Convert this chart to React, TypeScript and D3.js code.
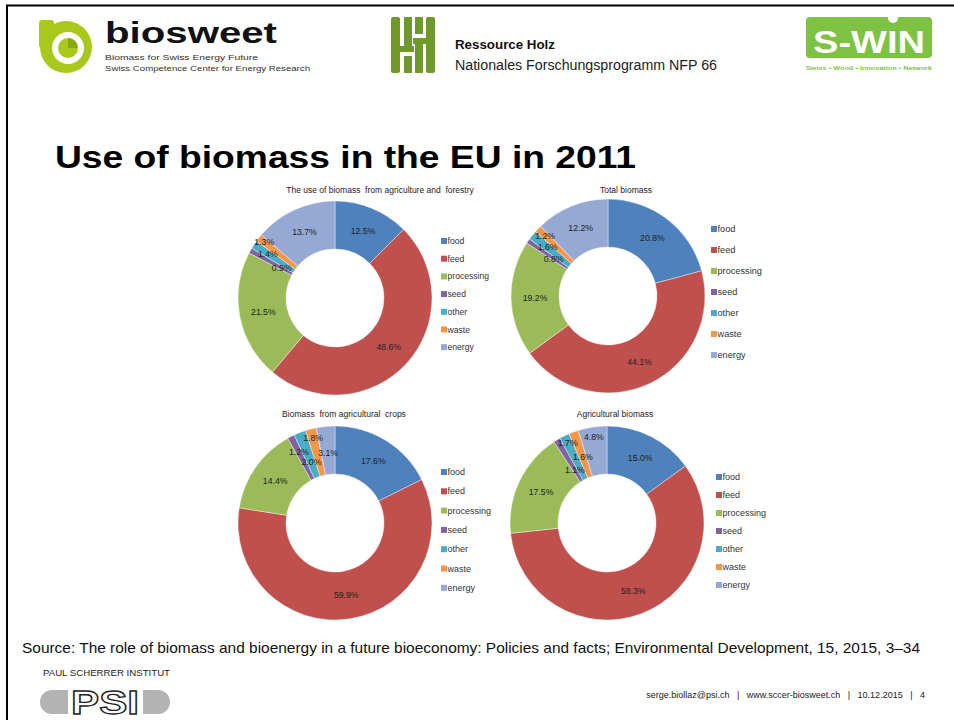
import React from 'react';
import { arc, pie } from 'd3';

const categories = ['food', 'feed', 'processing', 'seed', 'other', 'waste', 'energy'];
const colors = ['#4F81BD', '#C0504D', '#9BBB59', '#8064A2', '#4BACC6', '#F79646', '#95A9D4'];

const agriForestry = [12.5, 48.6, 21.5, 0.9, 1.4, 1.3, 13.7];
const totalBiomass = [20.8, 44.1, 19.2, 0.8, 1.6, 1.2, 12.2];
const agriCrops = [17.6, 59.9, 14.4, 1.2, 2.0, 1.8, 3.1];
const agriBiomass = [15.0, 58.3, 17.5, 1.1, 1.7, 1.6, 4.8];

const titles = [
  'The use of biomass  from agriculture and  forestry',
  'Total biomass',
  'Biomass  from agricultural  crops',
  'Agricultural biomass',
];

const footerParts = ['serge.biollaz@psi.ch', 'www.sccer-biosweet.ch', '10.12.2015', '4'];

// layout of each donut on the slide
const panels = [
  { values: agriForestry, cx: 335, cy: 298, tx: 380, ty: 193, lx: 441, ly: 241, step: 17.7, fs: 8.6, labelR: [0, 0, 0, 0.63, 0.83, 0.93, 0] },
  { values: totalBiomass, cx: 608, cy: 296, tx: 626, ty: 193, lx: 711, ly: 229, step: 21, fs: 9.2, labelR: [0, 0, 0, 0.68, 0.8, 0.9, 0] },
  { values: agriCrops, cx: 335, cy: 523, tx: 344, ty: 417, lx: 441, ly: 472, step: 19.3, fs: 9, labelR: [0, 0, 0, 0.82, 0.67, 0.91, 0.73] },
  { values: agriBiomass, cx: 607, cy: 523, tx: 615, ty: 417, lx: 716, ly: 477, step: 18, fs: 9, labelR: [0, 0, 0, 0.64, 0.92, 0.72, 0.9] },
];

const R = 97;
const r0 = 49;

const Donut = ({ p, title }: any) => {
  const arcs = pie<number>().sort(null).value((d) => d)(p.values);
  const path = arc<any>().innerRadius(r0).outerRadius(R);
  return (
    <g>
      <text x={p.tx} y={p.ty} textAnchor="middle" fontSize={8.5} fill="#222" style={{ whiteSpace: 'pre' }}>{title}</text>
      <g transform={`translate(${p.cx},${p.cy})`}>
        {arcs.map((a, i) => (
          <path key={i} d={path(a) as string} fill={colors[i]} stroke="#fff" strokeWidth={0.4} />
        ))}
        {arcs.map((a, i) => {
          const rr = p.labelR[i] ? p.labelR[i] * R : (r0 + R) / 2;
          const ang = (a.startAngle + a.endAngle) / 2;
          const x = rr * Math.sin(ang);
          const y = -rr * Math.cos(ang);
          return (
            <text key={i} x={x} y={y} dy="0.35em" textAnchor="middle" fontSize={8.7} fill="#222">
              {p.values[i].toFixed(1)}%
            </text>
          );
        })}
      </g>
      {categories.map((c, i) => (
        <g key={c} transform={`translate(${p.lx},${p.ly + i * p.step})`}>
          <rect x={0} y={-3} width={6} height={6} fill={colors[i]} />
          <text x={6.5} y={0} dy="0.35em" fontSize={p.fs} fill="#333">{c}</text>
        </g>
      ))}
    </g>
  );
};

export default function App() {
  const font = 'Arial, "Liberation Sans", sans-serif';
  return (
    <svg width={954} height={720} style={{ position: 'absolute', left: 0, top: 0, fontFamily: font }}>
      <rect width={954} height={720} fill="#fff" />
      {/* slide frame */}
      <path d="M7,720 V5.5 H954" fill="none" stroke="#000" strokeWidth={2} />

      {/* biosweet logo */}
      <g>
        <rect x={39} y={20} width={15} height={28} rx={3} fill="#A8C81E" />
        <circle cx={66} cy={47} r={26} fill="#A8C81E" />
        <circle cx={68} cy={48} r={16} fill="#fff" />
        <circle cx={68} cy={48} r={10} fill="#A8C81E" />
        <path d="M68,38 A10,10 0 0,1 78,48 L68,48 Z" fill="#86A818" />
        <text x={105} y={43} fontSize={29} fontWeight="bold" fill="#111" textLength={172} lengthAdjust="spacingAndGlyphs">biosweet</text>
        <text x={105} y={60} fontSize={8} fill="#333" textLength={153} lengthAdjust="spacingAndGlyphs">Biomass for Swiss Energy Future</text>
        <text x={105} y={71} fontSize={8} fill="#333" textLength={205} lengthAdjust="spacingAndGlyphs">Swiss Competence Center for Energy Research</text>
      </g>

      {/* Ressource Holz logo */}
      <g fill="#6F9A2A">
        <rect x={391} y={17} width={9} height={56} rx={2} />
        <rect x={404} y={17} width={8} height={34} />
        <rect x={404} y={56} width={8} height={17} />
        <rect x={415} y={17} width={8} height={17} />
        <rect x={415} y={39} width={8} height={34} />
        <rect x={426} y={17} width={9} height={56} rx={2} />
        <rect x={398} y={46} width={16} height={6} />
        <rect x={413} y={38} width={16} height={6} />
      </g>
      <text x={455} y={49} fontSize={13} fontWeight="bold" fill="#111" textLength={100} lengthAdjust="spacingAndGlyphs">Ressource Holz</text>
      <text x={455} y={70} fontSize={14} fill="#222" textLength={262} lengthAdjust="spacingAndGlyphs">Nationales Forschungsprogramm NFP 66</text>

      {/* S-WIN logo */}
      <rect x={806} y={17} width={126} height={41} rx={4} fill="#7DC242" />
      <circle cx={893} cy={18} r={5} fill="#fff" />
      <text x={869} y={53} textAnchor="middle" fontSize={32} fontWeight="bold" fill="#fff" textLength={112} lengthAdjust="spacingAndGlyphs">S-WIN</text>
      <text x={869} y={70} textAnchor="middle" fontSize={6} fontWeight="bold" fill="#7DC242" textLength={126} lengthAdjust="spacingAndGlyphs">Swiss • Wood • Innovation • Network</text>

      {/* slide title */}
      <text x={55} y={168} fontSize={32} fontWeight="bold" fill="#000" textLength={581} lengthAdjust="spacingAndGlyphs">Use of biomass in the EU in 2011</text>

      {panels.map((p, i) => (
        <Donut key={i} p={p} title={titles[i]} />
      ))}

      {/* source */}
      <text x={22} y={653} fontSize={15} fill="#111" textLength={898} lengthAdjust="spacingAndGlyphs">
        Source: The role of biomass and bioenergy in a future bioeconomy: Policies and facts; Environmental Development, 15, 2015, 3–34
      </text>

      {/* PSI logo */}
      <text x={43} y={676} fontSize={8.5} fill="#222" textLength={127} lengthAdjust="spacingAndGlyphs">PAUL SCHERRER INSTITUT</text>
      <rect x={40} y={690} width={130} height={24} rx={12} fill="#B3B3B3" />
      <rect x={68} y={683} width={75} height={37} fill="#fff" />
      <text x={105} y={714} textAnchor="middle" fontSize={34} fontWeight="bold" fill="#fff" stroke="#222" strokeWidth={1.3} textLength={68} lengthAdjust="spacingAndGlyphs">PSI</text>

      {/* footer */}
      <text x={925} y={698} textAnchor="end" fontSize={9} fill="#222" style={{ whiteSpace: 'pre' }}>
        {footerParts.join('   |   ')}
      </text>
    </svg>
  );
}
